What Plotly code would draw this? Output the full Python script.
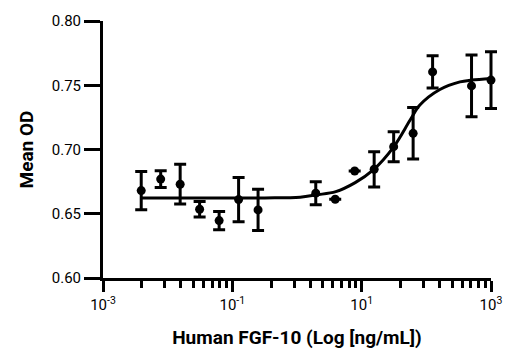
import plotly.graph_objects as go

# Concentration (ng/mL), mean OD and error (SD)
conc = [0.0039, 0.0078, 0.0156, 0.0312, 0.0625, 0.125, 0.25,
        1.95, 3.9, 7.8, 15.6, 31.25, 62.5, 125, 500, 1000]
mean_od = [0.668, 0.677, 0.673, 0.6535, 0.6447, 0.661, 0.653,
           0.666, 0.6613, 0.6833, 0.6846, 0.7022, 0.7126, 0.7604, 0.7495, 0.754]
err_od = [0.0148, 0.0065, 0.0155, 0.006, 0.0071, 0.0172, 0.016,
          0.009, 0.0, 0.0, 0.0137, 0.0117, 0.020, 0.0125, 0.024, 0.022]

# Fitted curve, points
curve_x = [0.004, 0.0316, 0.316, 1.12, 2.0, 3.98, 7.94, 15.1, 30.9,
           56.2, 79.4, 162, 331, 501, 1000]
curve_y = [0.6622, 0.6622, 0.6623, 0.6629, 0.6647, 0.6672, 0.6742, 0.6841,
           0.7017, 0.7229, 0.7346, 0.7467, 0.7526, 0.7540, 0.7553]

y_ticks = [0.60, 0.65, 0.70, 0.75, 0.80]
x_major = [0.001, 0.1, 10, 1000]
x_labels = ["10<sup>-3</sup>", "10<sup>-1</sup>", "10<sup>1</sup>", "10<sup>3</sup>"]

# minor ticks: log-style subdivisions of each two-decade span
x_minor = [b * k * k for b in x_major[:-1] for k in range(2, 10)]

FONT = "Roboto, Liberation Sans, sans-serif"

# main axis occupies 388 px of a 400 px area; a hidden twin axis with the
# same scale spans the full 400 px so end-point error bars are not clipped
AX_W, FULL_W = 388.0, 400.0
twin_hi = -3 + 6 * FULL_W / AX_W

fig = go.Figure()
fig.add_trace(go.Scatter(
    x=curve_x, y=curve_y, mode="lines",
    line=dict(color="black", width=3, shape="spline", smoothing=1.0),
    hoverinfo="skip", cliponaxis=False))
fig.add_trace(go.Scatter(
    x=conc, y=mean_od, mode="markers", xaxis="x2", yaxis="y",
    marker=dict(color="black", size=9),
    error_y=dict(type="data", array=err_od, color="black", thickness=3, width=6),
    cliponaxis=False))

fig.update_layout(
    width=520, height=350,
    margin=dict(l=103, r=520 - 103 - int(FULL_W), t=21, b=72),
    paper_bgcolor="white", plot_bgcolor="rgba(0,0,0,0)",
    showlegend=False,
    font=dict(family=FONT, color="black", size=15),
    xaxis=dict(
        domain=[0, AX_W / FULL_W], automargin=False,
        type="log", range=[-3, 3],
        tickmode="array", tickvals=x_major, ticktext=x_labels,
        ticks="outside", ticklen=11, tickwidth=3, tickcolor="black",
        showline=True, linewidth=3, linecolor="black",
        showgrid=False, zeroline=False,
        tickfont=dict(family=FONT, size=15),
        minor=dict(tickmode="array", tickvals=x_minor, ticks="outside",
                   ticklen=7, tickwidth=3, tickcolor="black", showgrid=False),
        title=dict(text="<b>Human FGF-10 (Log [ng/mL])</b>",
                   font=dict(family=FONT, size=19), standoff=18),
    ),
    xaxis2=dict(
        domain=[0, 1], type="log", range=[-3, twin_hi], anchor="y",
        visible=False, showgrid=False, zeroline=False, automargin=False,
    ),
    yaxis=dict(
        range=[0.6, 0.8], automargin=False,
        tickmode="array", tickvals=y_ticks, tickformat=".2f",
        ticks="outside", ticklen=16, tickwidth=3, tickcolor="black",
        showline=True, linewidth=3, linecolor="black",
        showgrid=False, zeroline=False,
        tickfont=dict(family=FONT, size=15),
        title=dict(text="<b>Mean OD</b>", font=dict(family=FONT, size=19), standoff=14),
    ),
)

fig.write_html("out.html")
